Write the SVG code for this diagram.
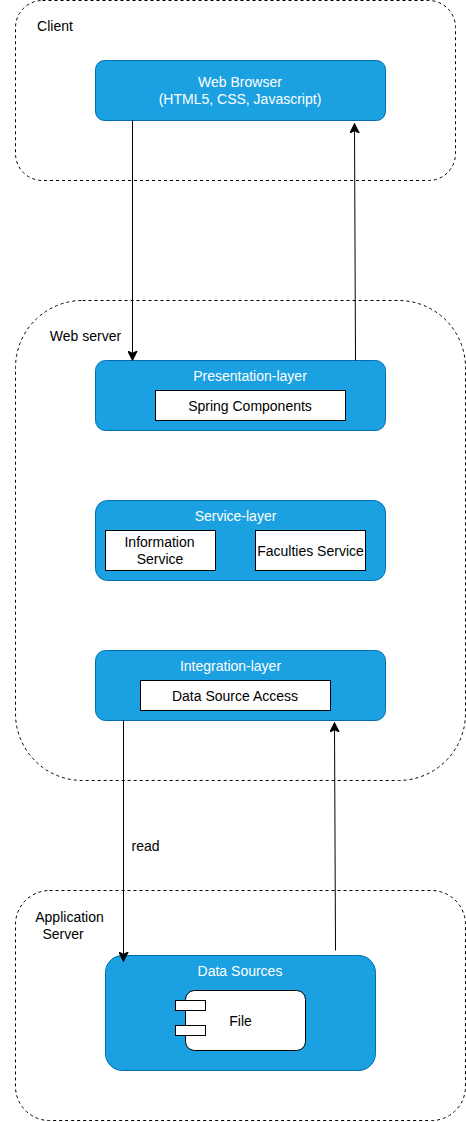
<svg xmlns="http://www.w3.org/2000/svg" width="466" height="1122" viewBox="0 0 466 1122">
<defs>
<style>
text{font-family:"Liberation Sans",Arial,sans-serif;font-size:14px;text-anchor:middle;fill:#000}
.w{fill:#fff}
.zone{fill:none;stroke:#000;stroke-dasharray:3 3}
.blue{fill:#1ba1e2;stroke:#006eaf}
.box{fill:#fff;stroke:#000}
.c{fill:none;stroke:#000}
</style>
<marker id="a" markerWidth="10" markerHeight="10" refX="7" refY="3.5" orient="auto" markerUnits="userSpaceOnUse" viewBox="0 0 8 7"><path d="M0 0L7 3.5L0 7L1.75 3.5Z" fill="#000" stroke="#000"/></marker>
</defs>
<rect width="466" height="1122" fill="#fff"/>
<g id="client"><rect class="zone" x="15.5" y="0.5" width="440" height="180" rx="27"/><text x="55" y="31">Client</text></g>
<g id="web-server"><rect class="zone" x="15.5" y="300.5" width="450" height="480" rx="67"/><text x="85.500" y="341">Web server</text></g>
<g id="application-server"><rect class="zone" x="15.500" y="890.500" width="450" height="230" rx="34"/><text x="69.500" y="922">Application</text><text x="63" y="939">Server</text></g>
<g id="web-browser"><rect class="blue" x="95.500" y="60.500" width="290" height="60" rx="9"/><text class="w" x="240" y="87">Web Browser</text><text class="w" x="240" y="104">(HTML5, CSS, Javascript)</text></g>
<g id="presentation-layer"><rect class="blue" x="95.500" y="360.500" width="290" height="70" rx="10"/><text class="w" x="250" y="381">Presentation-layer</text><rect class="box" x="155.500" y="390.500" width="190" height="30"/><text x="250" y="411">Spring Components</text></g>
<g id="service-layer"><rect class="blue" x="95.500" y="500.500" width="290" height="80" rx="12"/><text class="w" x="235.500" y="521">Service-layer</text><rect class="box" x="105.500" y="530.500" width="110" height="40"/><text x="159.500" y="547">Information</text><text x="160" y="564">Service</text><rect class="box" x="255.500" y="530.500" width="110" height="40"/><text x="310.500" y="556">Faculties Service</text></g>
<g id="integration-layer"><rect class="blue" x="95.500" y="650.500" width="290" height="70" rx="10"/><text class="w" x="230.500" y="671">Integration-layer</text><rect class="box" x="140.500" y="680.500" width="190" height="30"/><text x="235" y="701">Data Source Access</text></g>
<g id="data-sources"><rect class="blue" x="105.500" y="955.500" width="270" height="115" rx="17"/><text class="w" x="240" y="976">Data Sources</text><rect class="box" x="185.500" y="990.500" width="120" height="60" rx="9"/><rect class="box" x="175.500" y="1000.500" width="30" height="10"/><rect class="box" x="175.500" y="1025.500" width="30" height="10"/><text x="240.500" y="1026">File</text></g>
<g id="connectors">
<path class="c" d="M132.500 120.500V360" marker-end="url(#a)"/>
<path class="c" d="M355.500 360.500L354.500 124" marker-end="url(#a)"/>
<path class="c" d="M123.500 720.500V961" marker-end="url(#a)"/>
<path class="c" d="M335.500 950.500L334.500 723" marker-end="url(#a)"/>
<text x="145.500" y="851">read</text>
</g>
</svg>
